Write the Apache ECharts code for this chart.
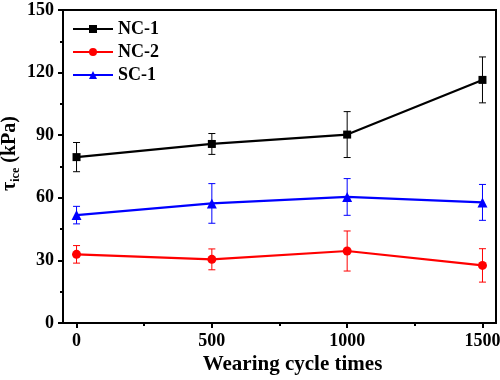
<!DOCTYPE html>
<html>
<head>
<meta charset="utf-8">
<script src="https://cdn.jsdelivr.net/npm/echarts@6/dist/echarts.min.js"></script>
<style>html,body{margin:0;padding:0;background:#fff}#c{width:500px;height:380px}</style>
</head>
<body>
<div id="c"></div>
<script>
const xValues = [0, 500, 1000, 1500];
const xTickLabels = [0, 500, 1000, 1500];
const xMinorTicks = [250, 750, 1250];
const seriesNames = ['NC-1', 'NC-2', 'SC-1'];
const nc1 = [79.5, 85.8, 90.3, 116.5];
const nc1Err = [7, 5, 11, 11];
const nc2 = [32.9, 30.5, 34.5, 27.6];
const nc2Err = [4.2, 5, 9.6, 8];
const sc1 = [51.7, 57.3, 60.4, 57.8];
const sc1Err = [4.2, 9.5, 8.8, 8.6];

const FONT = '"Liberation Serif", "Times New Roman", serif';
const colors = ['#000000', '#ff0000', '#0000ff'];
const symbols = ['rect', 'circle', 'triangle'];
const symbolSizes = [8, 9, 10];
const values = [nc1, nc2, sc1];
const errs = [nc1Err, nc2Err, sc1Err];

const chart = echarts.init(document.getElementById('c'), null, {renderer: 'canvas'});

function errSeries(i) {
  return {
    type: 'custom',
    name: seriesNames[i] + '-err',
    xAxisIndex: 0, yAxisIndex: 0,
    z: 1,
    silent: true,
    data: xValues.map((x, k) => [x, values[i][k] - errs[i][k], values[i][k] + errs[i][k]]),
    renderItem: function (params, api) {
      const lo = api.coord([api.value(0), api.value(1)]);
      const hi = api.coord([api.value(0), api.value(2)]);
      const w = 3.5;
      const style = {stroke: colors[i], lineWidth: 1};
      return {
        type: 'group',
        children: [
          {type: 'line', shape: {x1: lo[0], y1: lo[1], x2: hi[0], y2: hi[1]}, style},
          {type: 'line', shape: {x1: lo[0] - w, y1: lo[1], x2: lo[0] + w, y2: lo[1]}, style},
          {type: 'line', shape: {x1: hi[0] - w, y1: hi[1], x2: hi[0] + w, y2: hi[1]}, style}
        ]
      };
    }
  };
}

const lineSeries = seriesNames.map((n, i) => ({
  type: 'line',
  name: n,
  data: xValues.map((x, k) => [x, values[i][k]]),
  symbol: symbols[i],
  symbolSize: symbolSizes[i],
  showAllSymbol: true,
  z: 3,
  lineStyle: {color: colors[i], width: 2.2},
  itemStyle: {color: colors[i]}
}));

const option = {
  animation: false,
  backgroundColor: '#ffffff',
  grid: {left: 63, right: 4, top: 10, bottom: 57, containLabel: false, outerBoundsMode: 'none', show: true, borderColor: '#000', borderWidth: 2, backgroundColor: 'transparent'},
  legend: {
    data: seriesNames,
    orient: 'vertical',
    left: 67, top: 15,
    itemWidth: 40, itemHeight: 10, itemGap: 5,
    textStyle: {fontFamily: FONT, fontWeight: 'bold', fontSize: 18, color: '#000'}
  },
  xAxis: [{
    type: 'value',
    min: -50, max: 1550,
    name: 'Wearing cycle times',
    nameLocation: 'middle',
    nameGap: 31,
    nameMoveOverlap: false,
    nameTextStyle: {fontFamily: FONT, fontWeight: 'bold', fontSize: 21, color: '#000', padding: [0, 0, 0, 26]},
    axisLine: {show: true, onZero: false, lineStyle: {color: '#000', width: 2}},
    axisTick: {show: true, inside: false, length: 5, customValues: xTickLabels, lineStyle: {color: '#000', width: 2}},
    axisLabel: {show: true, margin: 9, customValues: xTickLabels, formatter: v => String(v), fontFamily: FONT, fontWeight: 'bold', fontSize: 18, color: '#000'},
    splitLine: {show: false}
  }, {
    type: 'value',
    min: -50, max: 1550,
    position: 'bottom',
    axisLine: {show: false, onZero: false},
    axisTick: {show: true, inside: false, length: 3, customValues: xMinorTicks, lineStyle: {color: '#000', width: 2}},
    axisLabel: {show: false},
    splitLine: {show: false}
  }],
  yAxis: {
    type: 'value',
    min: 0, max: 150, interval: 30,
    name: '{t|τ}{s|ice}{t| (kPa)}',
    nameLocation: 'middle',
    nameGap: 41,
    nameMoveOverlap: false,
    nameRotate: 90,
    nameTextStyle: {
      fontFamily: FONT, fontWeight: 'bold', color: '#000',
      padding: [0, 0, 0, 26],
      rich: {
        t: {fontFamily: FONT, fontWeight: 'bold', fontSize: 20, color: '#000', lineHeight: 24, verticalAlign: 'middle'},
        s: {fontFamily: FONT, fontWeight: 'bold', fontSize: 12, color: '#000', lineHeight: 12, verticalAlign: 'bottom'}
      }
    },
    axisLine: {show: true, onZero: false, lineStyle: {color: '#000', width: 2}},
    axisTick: {show: true, inside: false, length: 5, lineStyle: {color: '#000', width: 2}},
    minorTick: {show: true, splitNumber: 2, length: 3, lineStyle: {color: '#000', width: 2}},
    axisLabel: {margin: 9, formatter: v => String(v), fontFamily: FONT, fontWeight: 'bold', fontSize: 18, color: '#000'},
    splitLine: {show: false}
  },
  series: [errSeries(0), errSeries(1), errSeries(2)].concat(lineSeries)
};
chart.setOption(option);
</script>
</body>
</html>
